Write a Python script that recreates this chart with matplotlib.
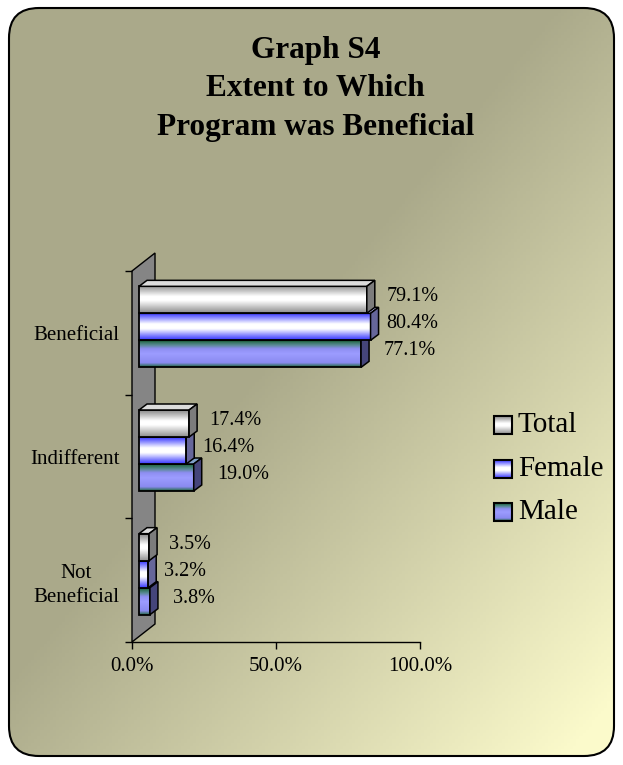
import numpy as np
import matplotlib
matplotlib.use('Agg')
import matplotlib.pyplot as plt
from matplotlib.colors import LinearSegmentedColormap, to_rgb
from matplotlib.patches import Polygon, FancyBboxPatch

# data (bottom to top, like the chart's y axis)
categories = ['Not\nBeneficial', 'Indifferent', 'Beneficial']
total = [3.5, 17.4, 79.1]
female = [3.2, 16.4, 80.4]
male = [3.8, 19.0, 77.1]
series_names = ['Total', 'Female', 'Male']
x_ticks = [0, 50, 100]
x_ticklabels = ['0.0%', '50.0%', '100.0%']

W, H = 623, 765
plt.rcParams['font.family'] = 'Liberation Serif'

fig = plt.figure(figsize=(W / 100, H / 100), dpi=100)
fig.patch.set_facecolor('white')

# background panel in pixel coords
bg = fig.add_axes([0, 0, 1, 1], zorder=0)
bg.set_xlim(0, W)
bg.set_ylim(H, 0)
bg.axis('off')
olive = np.array(to_rgb('#aaa98a'))
yellow = np.array(to_rgb('#fbfacb'))
xx, yy = np.meshgrid(np.linspace(0, 1, 200), np.linspace(0, 1, 240))
t = np.clip((0.5 * xx + 0.5 * yy - 0.45) / 0.5, 0, 1)
img = olive + t[..., None] * (yellow - olive)
panel = FancyBboxPatch((9, 8), W - 18, H - 17, boxstyle='round,pad=0,rounding_size=30',
                       fc='none', ec='black', lw=1.5, zorder=3)
bg.add_patch(panel)
im = bg.imshow(img, extent=[0, W, H, 0], aspect='auto', zorder=1)
im.set_clip_path(panel)

fig.text(0.507, 1 - 89 / H, 'Graph S4\nExtent to Which\nProgram was Beneficial',
         ha='center', va='center', fontsize=22.5, fontweight='bold', linespacing=1.43)

# main axes
ax = fig.add_axes([132 / W, 1 - 642 / H, 288 / W, 371 / H], zorder=2)
ax.set_xlim(0, 100)
ax.set_ylim(-0.5, 2.5)
ax.patch.set_alpha(0)
ux = 100 / 288   # data units per pixel
uy = 3 / 371

# back wall
wdx, wdy = 23 * ux, 18 * uy
ax.add_patch(Polygon([(0, -0.5), (0, 2.5), (wdx, 2.5 + wdy), (wdx, -0.5 + wdy)],
                     closed=True, fc='#858585', ec='black', lw=1.0, clip_on=False, zorder=1))

styles = {
    'Total': dict(stops=[(0, '#8e8e8e'), (0.45, '#ffffff'), (0.6, '#ffffff'), (1, '#8a8a8a')],
                  side='#7c7c7c', top='#dcdcdc', off=20),
    'Female': dict(stops=[(0, '#3535ff'), (0.42, '#ffffff'), (0.6, '#ffffff'), (1, '#3838ff')],
                   side='#66669a', top='#c8c8ff', off=16),
    'Male': dict(stops=[(0, '#1f6a3c'), (0.15, '#8a8af0'), (0.5, '#9c9cff'), (0.68, '#8e8ef2'),
                        (0.82, '#5a8a96'), (1, '#1a6438')],
                 side='#45457a', top='#7fa0c8', off=23),
}
values = {'Total': total, 'Female': female, 'Male': male}

bh = 27 * uy
sx, sy = 7 * ux, 6 * uy      # front face shift
dx, dy = 8 * ux, 6 * uy      # bar depth
grad = np.linspace(0, 1, 64).reshape(-1, 1)

for i in range(len(categories)):
    # draw lower bars first so upper ones cover their tops
    for j, name in [(1, 'Male'), (0, 'Female'), (-1, 'Total')]:
        st = styles[name]
        v = values[name][i]
        yc = i - j * bh + sy
        x0, x1 = sx, sx + v
        y0, y1 = yc - bh / 2, yc + bh / 2
        z = 3 + i
        cm = LinearSegmentedColormap.from_list(name, st['stops'])
        ax.imshow(grad, cmap=cm, extent=[x0, x1, y0, y1], origin='lower',
                  aspect='auto', zorder=z, clip_on=False)
        ax.add_patch(Polygon([(x0, y0), (x1, y0), (x1, y1), (x0, y1)], closed=True,
                             fc='none', ec='black', lw=1.3, clip_on=False, zorder=z))
        ax.add_patch(Polygon([(x0, y1), (x1, y1), (x1 + dx, y1 + dy), (x0 + dx, y1 + dy)],
                             closed=True, fc=st['top'], ec='black', lw=1.1, clip_on=False, zorder=z))
        ax.add_patch(Polygon([(x1, y0), (x1 + dx, y0 + dy), (x1 + dx, y1 + dy), (x1, y1)],
                             closed=True, fc=st['side'], ec='black', lw=1.1, clip_on=False, zorder=z))
        ax.text(x1 + st['off'] * ux, yc + 3 * uy, f'{v:.1f}%', ha='left', va='center',
                fontsize=14.5, zorder=10)

ax.set_xlim(0, 100)
ax.set_ylim(-0.5, 2.5)
ax.set_xticks(x_ticks)
ax.set_xticklabels(x_ticklabels, fontsize=15)
ax.set_yticks([-0.5, 0.5, 1.5, 2.5])
ax.set_yticklabels([])
ax.set_yticks(range(len(categories)), minor=True)
ax.set_yticklabels(categories, minor=True, fontsize=15)
for lab in ax.get_yticklabels(minor=True):
    lab.set_multialignment('center')
    lab.set_linespacing(1.35)
ax.tick_params(axis='y', which='minor', length=0, pad=9)
ax.tick_params(axis='both', which='major', length=5, width=1, direction='out', color='black')
ax.tick_params(axis='x', pad=6)
for s in ['top', 'right']:
    ax.spines[s].set_visible(False)
ax.spines['left'].set_visible(False)
ax.spines['bottom'].set_linewidth(1)

# legend
lax = fig.add_axes([0, 0, 1, 1], zorder=4)
lax.set_xlim(0, W)
lax.set_ylim(H, 0)
lax.axis('off')
for k, name in enumerate(series_names):
    yc = 425 + k * 43.5
    cm = LinearSegmentedColormap.from_list(name, styles[name]['stops'])
    lax.imshow(grad, cmap=cm, extent=[494, 512, yc + 9, yc - 9], origin='lower', aspect='auto')
    lax.add_patch(Polygon([(494, yc - 9), (512, yc - 9), (512, yc + 9), (494, yc + 9)],
                          closed=True, fc='none', ec='black', lw=1.5))
    lax.text(518, yc, name, ha='left', va='center', fontsize=21)
lax.set_xlim(0, W)
lax.set_ylim(H, 0)

fig.savefig('out.png', dpi=100)
